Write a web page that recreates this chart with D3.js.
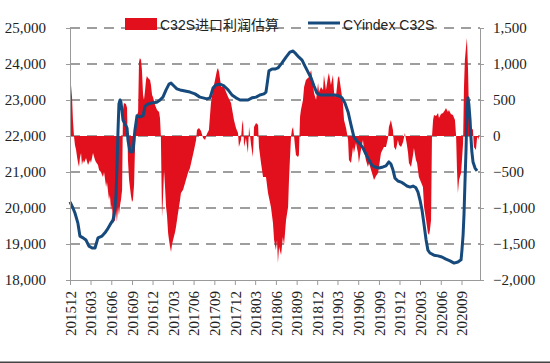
<!DOCTYPE html>
<html>
<head>
<meta charset="utf-8">
<script src="https://cdn.jsdelivr.net/npm/d3@7"></script>
<style>
  body { margin: 0; background: #fff; }
  .axis text { font-family: "Liberation Serif", "DejaVu Serif", serif; font-size: 15px; fill: #222; }
  .axis path, .axis line { stroke: #9a9a9a; }
  .legend text { font-family: "Liberation Sans", "Noto Sans CJK SC", sans-serif; font-size: 14px; fill: #222; }
</style>
</head>
<body>
<script>
// Chart data
var profitName = "C32S进口利润估算";
var indexName = "CYindex C32S";

var leftTicks = [18000, 19000, 20000, 21000, 22000, 23000, 24000, 25000];
var rightTicks = [-2000, -1500, -1000, -500, 0, 500, 1000, 1500];

// C32S import profit estimate (right axis)
var profitSeries = [
  ["2015-12-01",750],["2015-12-05",722],["2015-12-10",542],["2015-12-14",222],["2015-12-19",-14],
  ["2015-12-23",-125],["2015-12-28",-194],["2016-01-02",-306],["2016-01-05",-361],["2016-01-10",-431],
  ["2016-01-14",-306],["2016-01-19",-236],["2016-01-23",-403],["2016-01-28",-333],["2016-02-01",-375],
  ["2016-02-10",-306],["2016-02-19",-403],["2016-02-28",-333],["2016-03-03",-375],["2016-03-12",-236],
  ["2016-03-21",-333],["2016-03-25",-361],["2016-04-03",-403],["2016-04-08",-472],["2016-04-16",-500],
  ["2016-04-25",-569],["2016-04-30",-500],["2016-05-09",-708],["2016-05-13",-639],["2016-05-22",-889],
  ["2016-05-26",-819],["2016-05-31",-1028],["2016-06-04",-958],["2016-06-09",-1208],["2016-06-18",-1167],
  ["2016-06-22",-1028],["2016-06-26",-1194],["2016-07-01",-986],["2016-07-05",-1097],["2016-07-10",-958],
  ["2016-07-14",-889],["2016-07-19",-750],["2016-07-23",361],["2016-07-27",458],["2016-08-05",444],
  ["2016-08-10",389],["2016-08-14",-333],["2016-08-19",-611],["2016-08-27",-819],["2016-09-01",-917],
  ["2016-09-05",-889],["2016-09-10",-681],["2016-09-14",-194],["2016-09-19",222],["2016-09-23",292],
  ["2016-09-28",333],["2016-10-02",1028],["2016-10-06",1083],["2016-10-11",1056],["2016-10-15",917],
  ["2016-10-20",569],["2016-10-24",500],["2016-10-29",639],["2016-11-02",778],["2016-11-06",833],
  ["2016-11-11",806],["2016-11-20",778],["2016-11-24",708],["2016-11-29",569],["2016-12-03",542],
  ["2016-12-12",431],["2016-12-21",361],["2016-12-30",333],["2017-01-03",250],["2017-01-07",0],
  ["2017-01-12",-1125],["2017-01-16",-889],["2017-01-21",-472],["2017-01-25",-681],["2017-01-30",-986],
  ["2017-02-03",-1097],["2017-02-08",-1347],["2017-02-12",-1444],["2017-02-16",-1528],["2017-02-21",-1611],
  ["2017-02-25",-1514],["2017-03-02",-1444],["2017-03-11",-1333],["2017-03-15",-1264],["2017-03-24",-1069],
  ["2017-04-02",-889],["2017-04-06",-792],["2017-04-15",-750],["2017-04-19",-708],["2017-04-28",-611],
  ["2017-05-07",-514],["2017-05-16",-444],["2017-05-21",-375],["2017-05-29",-264],["2017-06-03",-194],
  ["2017-06-12",-56],["2017-06-16",83],["2017-06-25",111],["2017-07-04",69],["2017-07-13",-28],
  ["2017-07-22",-56],["2017-07-30",28],["2017-08-08",83],["2017-08-17",458],["2017-08-26",639],
  ["2017-09-04",778],["2017-09-13",917],["2017-09-17",944],["2017-09-22",889],["2017-10-01",681],
  ["2017-10-14",681],["2017-10-23",611],["2017-11-01",542],["2017-11-14",458],["2017-11-27",222],
  ["2017-12-06",111],["2017-12-15",42],["2017-12-19",-153],["2017-12-28",-56],["2018-01-02",153],
  ["2018-01-06",222],["2018-01-11",-153],["2018-01-19",-28],["2018-01-28",-236],["2018-02-02",125],
  ["2018-02-11",-125],["2018-02-19",-292],["2018-02-24",125],["2018-03-05",181],["2018-03-14",153],
  ["2018-03-18",-153],["2018-03-27",-375],["2018-04-05",-569],["2018-04-18",-569],["2018-04-27",-792],
  ["2018-05-10",-986],["2018-05-19",-1208],["2018-05-24",-1444],["2018-06-01",-1583],["2018-06-06",-1444],
  ["2018-06-10",-1764],["2018-06-15",-1542],["2018-06-24",-1653],["2018-07-02",-1403],["2018-07-07",-1514],
  ["2018-07-16",-1167],["2018-07-25",-986],["2018-07-29",-611],["2018-08-02",-333],["2018-08-07",-14],
  ["2018-08-11",83],["2018-08-16",125],["2018-08-20",14],["2018-08-25",-153],["2018-08-29",-264],
  ["2018-09-07",-292],["2018-09-11",-264],["2018-09-16",264],["2018-09-20",361],["2018-09-29",500],
  ["2018-10-04",681],["2018-10-12",778],["2018-10-21",806],["2018-10-26",819],["2018-11-04",917],
  ["2018-11-12",736],["2018-11-17",597],["2018-11-26",500],["2018-12-05",736],["2018-12-09",611],
  ["2018-12-18",681],["2018-12-27",639],["2018-12-31",847],["2019-01-09",639],["2019-01-18",819],
  ["2019-01-22",875],["2019-01-31",708],["2019-02-09",847],["2019-02-14",597],["2019-02-22",542],
  ["2019-03-03",806],["2019-03-08",833],["2019-03-17",639],["2019-03-25",458],["2019-03-30",222],
  ["2019-04-08",111],["2019-04-12",42],["2019-04-17",-56],["2019-04-21",-333],["2019-04-30",-375],
  ["2019-05-09",-153],["2019-05-13",-236],["2019-05-22",-97],["2019-05-31",-236],["2019-06-04",-375],
  ["2019-06-13",-194],["2019-06-22",-56],["2019-06-27",-194],["2019-07-05",-333],["2019-07-14",-431],
  ["2019-07-19",-375],["2019-07-28",-472],["2019-08-05",-556],["2019-08-10",-611],["2019-08-19",-556],
  ["2019-08-28",-514],["2019-09-01",-431],["2019-09-10",-236],["2019-09-23",-153],["2019-10-02",-153],
  ["2019-10-11",-28],["2019-10-15",125],["2019-10-24",222],["2019-11-02",83],["2019-11-07",-153],
  ["2019-11-15",-194],["2019-11-24",-56],["2019-11-29",-125],["2019-12-08",-153],["2019-12-17",-83],
  ["2019-12-25",42],["2020-01-03",-125],["2020-01-08",-236],["2020-01-12",-375],["2020-01-21",-431],
  ["2020-01-30",-264],["2020-02-03",-167],["2020-02-12",-333],["2020-02-17",-375],["2020-02-25",-569],
  ["2020-03-05",-639],["2020-03-14",-708],["2020-03-19",-986],["2020-03-28",-1167],["2020-04-05",-1347],
  ["2020-04-10",-1375],["2020-04-14",-1306],["2020-04-19",-1167],["2020-04-23",-14],["2020-04-28",222],
  ["2020-05-02",292],["2020-05-11",278],["2020-05-20",319],["2020-05-24",250],["2020-06-02",306],
  ["2020-06-11",319],["2020-06-20",361],["2020-06-24",389],["2020-07-03",333],["2020-07-07",361],
  ["2020-07-16",306],["2020-07-25",292],["2020-08-03",222],["2020-08-08",0],["2020-08-12",-472],
  ["2020-08-16",-792],["2020-08-21",-611],["2020-08-30",-514],["2020-09-03",-333],["2020-09-08",-97],
  ["2020-09-12",681],["2020-09-16",1056],["2020-09-21",1236],["2020-09-25",1361],["2020-09-30",917],
  ["2020-10-04",319],["2020-10-09",194],["2020-10-13",125],["2020-10-22",83],["2020-10-26",-153],
  ["2020-11-04",-194],["2020-11-09",-28],["2020-11-13",-14],["2020-11-17",-56]
];

// CYindex C32S price (left axis)
var indexSeries = [
  ["2015-12-01",20170],["2015-12-14",20000],["2015-12-23",19860],["2016-01-05",19580],["2016-01-14",19220],
  ["2016-01-28",19170],["2016-02-10",19110],["2016-02-23",18940],["2016-03-08",18890],["2016-03-21",18890],
  ["2016-04-03",19170],["2016-04-21",19220],["2016-05-04",19310],["2016-05-13",19390],["2016-05-26",19530],
  ["2016-06-09",19670],["2016-06-13",19810],["2016-06-18",20030],["2016-06-22",20360],["2016-06-26",21060],
  ["2016-07-01",22170],["2016-07-05",22890],["2016-07-10",23000],["2016-07-14",22940],["2016-07-19",22670],
  ["2016-07-23",22440],["2016-08-01",22330],["2016-08-10",22220],["2016-08-14",21890],["2016-08-23",21560],
  ["2016-09-05",21560],["2016-09-14",22170],["2016-09-23",22560],["2016-10-06",22530],["2016-10-20",22560],
  ["2016-10-29",22830],["2016-11-11",22890],["2016-11-29",22920],["2016-12-21",22940],["2017-01-03",23000],
  ["2017-01-16",23080],["2017-01-30",23280],["2017-02-12",23440],["2017-02-21",23470],["2017-03-06",23390],
  ["2017-03-19",23310],["2017-04-02",23280],["2017-04-24",23250],["2017-05-16",23220],["2017-06-07",23170],
  ["2017-06-29",23080],["2017-07-13",23060],["2017-07-30",23030],["2017-08-13",23060],["2017-08-26",23330],
  ["2017-09-08",23420],["2017-09-26",23440],["2017-10-14",23390],["2017-11-01",23280],["2017-11-18",23140],
  ["2017-12-06",23060],["2017-12-24",23000],["2018-01-11",23000],["2018-01-28",23000],["2018-02-15",23060],
  ["2018-03-05",23080],["2018-03-22",23140],["2018-04-09",23170],["2018-04-18",23220],["2018-04-23",23440],
  ["2018-05-01",23810],["2018-05-15",23860],["2018-05-28",23860],["2018-06-10",23890],["2018-06-28",24030],
  ["2018-07-16",24190],["2018-08-02",24330],["2018-08-16",24360],["2018-08-29",24280],["2018-09-11",24190],
  ["2018-09-25",24110],["2018-10-08",23940],["2018-10-21",23780],["2018-11-04",23610],["2018-11-17",23390],
  ["2018-11-30",23190],["2018-12-14",23140],["2019-01-05",23140],["2019-01-27",23140],["2019-02-18",23140],
  ["2019-03-08",23110],["2019-03-21",23060],["2019-04-03",22920],["2019-04-17",22670],["2019-04-30",22310],
  ["2019-05-13",21970],["2019-05-27",21860],["2019-06-09",21780],["2019-06-22",21670],["2019-07-05",21500],
  ["2019-07-19",21330],["2019-08-01",21190],["2019-08-14",21140],["2019-09-01",21110],["2019-09-19",21140],
  ["2019-10-02",21170],["2019-10-15",21280],["2019-10-24",21220],["2019-11-02",21060],["2019-11-11",20830],
  ["2019-11-24",20750],["2019-12-08",20720],["2019-12-21",20670],["2020-01-03",20610],["2020-01-17",20580],
  ["2020-01-30",20610],["2020-02-12",20560],["2020-02-21",20440],["2020-03-01",20220],["2020-03-10",19940],
  ["2020-03-19",19530],["2020-03-28",19110],["2020-04-05",18830],["2020-04-14",18750],["2020-05-02",18690],
  ["2020-05-20",18670],["2020-06-06",18640],["2020-06-24",18580],["2020-07-12",18530],["2020-07-30",18470],
  ["2020-08-16",18500],["2020-08-30",18560],["2020-09-03",18830],["2020-09-08",19250],["2020-09-12",19810],
  ["2020-09-16",20640],["2020-09-21",21610],["2020-09-25",22720],["2020-09-30",23060],["2020-10-04",22860],
  ["2020-10-09",22440],["2020-10-13",21940],["2020-10-17",21560],["2020-10-22",21280],["2020-10-31",21110],
  ["2020-11-09",21030]
];

var parseDate = d3.timeParse("%Y-%m-%d");
var profit = profitSeries.map(function(d) { return {date: parseDate(d[0]), v: d[1]}; });
var index = indexSeries.map(function(d) { return {date: parseDate(d[0]), v: d[1]}; });

// Dimensions
var W = 550, H = 363;
var margin = {top: 28, right: 70, bottom: 83, left: 70},
    width = W - margin.left - margin.right,
    height = H - margin.top - margin.bottom;

var svg = d3.select("body").append("svg")
    .attr("width", W)
    .attr("height", H);

var g = svg.append("g")
    .attr("transform", "translate(" + margin.left + "," + margin.top + ")");

// Scales
var x = d3.scaleTime()
    .domain([new Date(2015, 11, 1), new Date(2020, 10, 22)])
    .range([0, width]);
var yL = d3.scaleLinear().domain([18000, 25000]).range([height, 0]);
var yR = d3.scaleLinear().domain([-2000, 1500]).range([height, 0]);

var xTicks = d3.timeMonth.range(new Date(2015, 11, 1), new Date(2020, 10, 22), 3);

// Gridlines
g.selectAll(".grid")
    .data(leftTicks.filter(function(d) { return d > 18000; }))
  .enter().append("line")
    .attr("x1", 0)
    .attr("x2", width)
    .attr("y1", function(d) { return yL(d); })
    .attr("y2", function(d) { return yL(d); })
    .attr("stroke", "#7f7f7f")
    .attr("stroke-width", 1.3)
    .attr("stroke-dasharray", "10,7");

// Profit area
var area = d3.area()
    .x(function(d) { return x(d.date); })
    .y0(yR(0))
    .y1(function(d) { return yR(d.v); });

g.append("path")
    .datum(profit)
    .attr("fill", "#e2101d")
    .attr("d", area);

// Index line
var line = d3.line()
    .x(function(d) { return x(d.date); })
    .y(function(d) { return yL(d.v); });

g.append("path")
    .datum(index)
    .attr("fill", "none")
    .attr("stroke", "#174a7c")
    .attr("stroke-width", 3)
    .attr("stroke-linejoin", "round")
    .attr("d", line);

// Axes
var xAxis = g.append("g")
    .attr("class", "axis")
    .attr("transform", "translate(0," + height + ")")
    .call(d3.axisBottom(x).tickValues(xTicks).tickFormat(d3.timeFormat("%Y%m")).tickSize(5).tickSizeOuter(0));
xAxis.selectAll("text")
    .attr("transform", "rotate(-90)")
    .attr("text-anchor", "end")
    .attr("x", -11)
    .attr("y", 0)
    .attr("dy", "0.35em");

g.append("g")
    .attr("class", "axis")
    .call(d3.axisLeft(yL).tickValues(leftTicks).tickFormat(d3.format(",")).tickSize(4).tickSizeOuter(0).tickPadding(20));

g.append("g")
    .attr("class", "axis")
    .attr("transform", "translate(" + width + ",0)")
    .call(d3.axisRight(yR).tickValues(rightTicks).tickFormat(d3.format(",")).tickSize(4).tickSizeOuter(0).tickPadding(9));

// Legend
var legend = svg.append("g").attr("class", "legend");
legend.append("rect")
    .attr("x", 125).attr("y", 18)
    .attr("width", 32).attr("height", 12)
    .attr("fill", "#e2101d");
legend.append("text")
    .attr("x", 160).attr("y", 30)
    .text(profitName);
legend.append("line")
    .attr("x1", 308).attr("x2", 340)
    .attr("y1", 23).attr("y2", 23)
    .attr("stroke", "#174a7c")
    .attr("stroke-width", 3);
legend.append("text")
    .attr("x", 343).attr("y", 30)
    .text(indexName);

// Bottom frame line
svg.append("line")
    .attr("x1", 0).attr("x2", W)
    .attr("y1", H - 0.75).attr("y2", H - 0.75)
    .attr("stroke", "#444")
    .attr("stroke-width", 1.5);
</script>
</body>
</html>
